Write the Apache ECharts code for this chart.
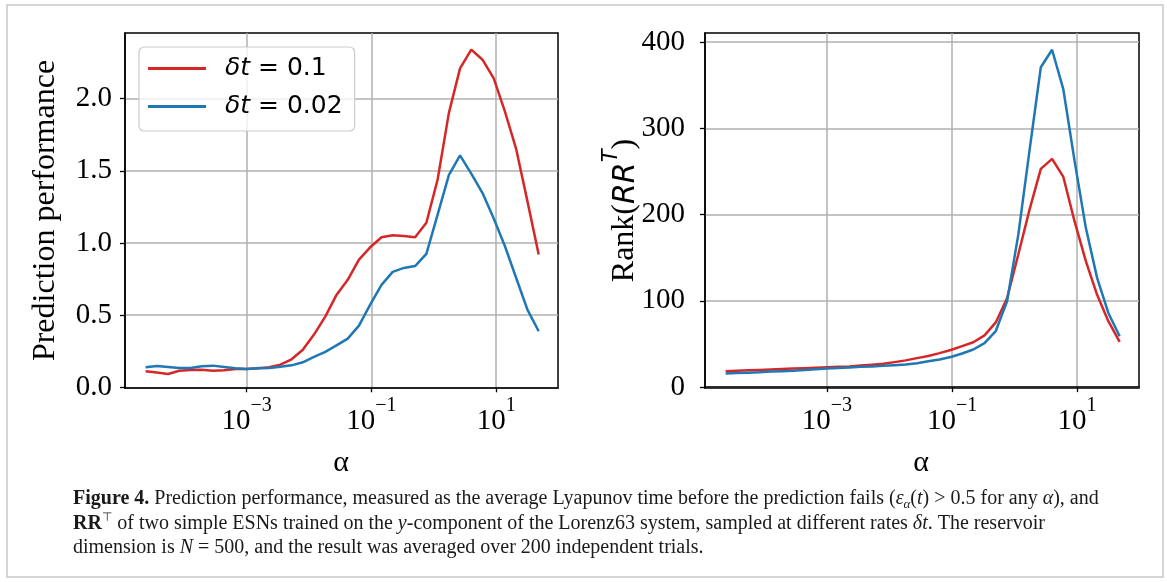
<!doctype html>
<html>
<head>
<meta charset="UTF-8">
<title>Figure 4</title>
<script src="https://cdn.jsdelivr.net/npm/echarts@6/dist/echarts.min.js"></script>
<style>
  html, body { margin: 0; padding: 0; background: #fff; }
  #main { width: 1167px; height: 582px; }
</style>
</head>
<body>
<div id="main"></div>
<script type="text/javascript">
// alpha values (log-spaced)
var alpha = [2.40e-5, 3.63e-5, 5.50e-5, 8.32e-5, 1.26e-4, 1.91e-4, 2.88e-4, 4.37e-4, 6.61e-4,
  1.00e-3, 1.51e-3, 2.29e-3, 3.47e-3, 5.25e-3, 7.94e-3, 1.20e-2, 1.82e-2, 2.75e-2, 4.17e-2,
  6.31e-2, 9.55e-2, 0.145, 0.219, 0.331, 0.501, 0.759, 1.15, 1.74, 2.63, 3.98, 6.03, 9.12,
  13.8, 20.9, 31.6, 47.9];

// prediction performance
var perf01 = [0.111, 0.102, 0.092, 0.115, 0.12, 0.122, 0.115, 0.118, 0.127, 0.127, 0.132, 0.139,
  0.157, 0.194, 0.26, 0.365, 0.49, 0.64, 0.745, 0.885, 0.97, 1.04, 1.053, 1.048, 1.04, 1.14,
  1.44, 1.90, 2.21, 2.34, 2.27, 2.14, 1.91, 1.65, 1.29, 0.92];
var perf002 = [0.139, 0.148, 0.141, 0.134, 0.134, 0.145, 0.15, 0.141, 0.132, 0.127, 0.132, 0.134,
  0.143, 0.152, 0.173, 0.21, 0.245, 0.29, 0.337, 0.427, 0.573, 0.71, 0.80, 0.827, 0.84, 0.924,
  1.196, 1.47, 1.607, 1.48, 1.346, 1.17, 0.977, 0.757, 0.538, 0.388];

// rank(RR^T)
var rank01 = [18.5, 19, 19.5, 20, 20.5, 21, 21.5, 22, 22.5, 23, 23.5, 24, 25, 26, 27, 29, 31, 33.6,
  36, 39.4, 43, 47.5, 52, 60, 75, 103, 154, 206, 253, 264.5, 243.6, 192, 146, 107, 76.4, 52.5];
var rank002 = [15.8, 16.3, 16.8, 17.3, 18, 18.5, 19, 19.8, 20.6, 21.6, 22.2, 22.8, 23.5, 24, 24.7,
  25.5, 26.3, 27.8, 30, 32, 35, 39, 43.6, 51, 65, 99.6, 177, 275, 370.7, 391, 345, 262, 184.6,
  126.6, 86, 59];

var xTicks = [1e-3, 1e-1, 10];
var perfTicks = [0, 0.5, 1.0, 1.5, 2.0];
var rankTicks = [0, 100, 200, 300, 400];

var names = ['δt = 0.1', 'δt = 0.02'];
var RED = '#d62728', BLUE = '#1f77b4';
var SERIF = 'Liberation Serif';

function pairs(ys) {
  return alpha.map(function (a, i) { return [a, ys[i]]; });
}

function xAxisDef(idx) {
  return {
    type: 'log', logBase: 10, gridIndex: idx,
    min: Math.pow(10, -4.95), max: Math.pow(10, 1.99),
    axisLine: { show: true, lineStyle: { color: '#000', width: 1.5 } },
    axisTick: { show: true, inside: false, length: 5, customValues: xTicks,
      lineStyle: { color: '#000', width: 1.3 } },
    minorTick: { show: false },
    splitLine: { show: true, lineStyle: { color: '#b0b0b0', width: 1.5 } },
    axisLabel: {
      customValues: xTicks, margin: 8,
      formatter: function (v) {
        var e = Math.round(Math.log(v) / Math.LN10);
        return '{b|10}{s|' + (e < 0 ? '\u2212' + (-e) : e) + '}';
      },
      rich: {
        b: { fontFamily: SERIF, fontSize: 29, color: '#000', lineHeight: 40, verticalAlign: 'bottom' },
        s: { fontFamily: SERIF, fontSize: 20, color: '#000', lineHeight: 20, verticalAlign: 'top' }
      }
    }
  };
}

function yAxisDef(idx, min, max, ticks, fmt, margin) {
  return {
    type: 'value', gridIndex: idx, min: min, max: max,
    axisLine: { show: true, lineStyle: { color: '#000', width: 1.5 } },
    axisTick: { show: true, inside: false, length: 5, customValues: ticks,
      lineStyle: { color: '#000', width: 1.3 } },
    splitLine: { show: true, lineStyle: { color: '#b0b0b0', width: 1.5 } },
    axisLabel: { customValues: ticks, formatter: fmt, margin: margin,
      fontFamily: SERIF, fontSize: 29, color: '#000' }
  };
}

function lineSeries(name, data, color, idx) {
  return {
    name: name, type: 'line', xAxisIndex: idx, yAxisIndex: idx,
    data: data, showSymbol: false, symbol: 'none',
    lineStyle: { color: color, width: 2.5 }, itemStyle: { color: color },
    emphasis: { disabled: true }
  };
}

var capRich = {
  b: { fontFamily: SERIF, fontSize: 20, fontWeight: 'bold', fill: '#1a1a1a', lineHeight: 24 },
  i: { fontFamily: SERIF, fontSize: 20, fontStyle: 'italic', fill: '#1a1a1a', lineHeight: 24 },
  sub: { fontFamily: SERIF, fontSize: 13, fontStyle: 'italic', fill: '#1a1a1a', lineHeight: 13, verticalAlign: 'bottom' },
  sup: { fontFamily: 'DejaVu Sans', fontSize: 12, fill: '#1a1a1a', lineHeight: 12, verticalAlign: 'top' }
};

var myChart = echarts.init(document.getElementById('main'));

var option = {
  backgroundColor: '#fff',
  animation: false,
  grid: [
    { left: 125, top: 33, width: 433, height: 355, show: true, borderColor: '#000', borderWidth: 1.5 },
    { left: 705, top: 33, width: 434, height: 355, show: true, borderColor: '#000', borderWidth: 1.5 }
  ],
  xAxis: [xAxisDef(0), xAxisDef(1)],
  yAxis: [
    yAxisDef(0, -0.005, 2.455, perfTicks, function (v) { return v.toFixed(1); }, 13),
    yAxisDef(1, -1, 410.4, rankTicks, function (v) { return String(v); }, 20)
  ],
  legend: {
    orient: 'vertical', left: 139, top: 47,
    data: names,
    icon: 'rect', itemWidth: 58, itemHeight: 3, itemGap: 13,
    padding: [9, 12, 12, 9],
    backgroundColor: 'rgba(255,255,255,0.8)', borderColor: '#cccccc', borderWidth: 1.2, borderRadius: 5,
    selectedMode: false,
    formatter: function (n) { return '{i|δt}{n| = ' + n.split('= ')[1] + '}'; },
    textStyle: {
      padding: [0, 0, 0, 14],
      rich: {
        i: { fontFamily: 'DejaVu Sans', fontStyle: 'italic', fontSize: 25, color: '#000', lineHeight: 30 },
        n: { fontFamily: 'DejaVu Sans', fontSize: 25, color: '#000', lineHeight: 30 }
      }
    }
  },
  series: [
    lineSeries(names[0], pairs(perf01), RED, 0),
    lineSeries(names[1], pairs(perf002), BLUE, 0),
    lineSeries(names[0], pairs(rank01), RED, 1),
    lineSeries(names[1], pairs(rank002), BLUE, 1)
  ],
  graphic: [
    { type: 'rect', z: -10, shape: { x: 7, y: 5, width: 1156, height: 572 },
      style: { fill: 'none', stroke: '#c8c8c8', lineWidth: 1.5 } },
    { type: 'text', x: 46, y: 210.5, rotation: Math.PI / 2,
      style: { text: 'Prediction performance', font: '32px "Liberation Serif"', fill: '#000',
        align: 'center', verticalAlign: 'middle' } },
    { type: 'text', x: 621, y: 210.5, rotation: Math.PI / 2,
      style: { text: '{a|Rank(}{i|RR}{s|T}{a|)}', align: 'center', verticalAlign: 'middle',
        rich: {
          a: { fontFamily: SERIF, fontSize: 32, fill: '#000', lineHeight: 40, verticalAlign: 'bottom' },
          i: { fontFamily: 'DejaVu Sans', fontStyle: 'italic', fontSize: 30, fill: '#000', lineHeight: 40, verticalAlign: 'bottom' },
          s: { fontFamily: 'DejaVu Sans', fontStyle: 'italic', fontSize: 21, fill: '#000', lineHeight: 24, verticalAlign: 'top' }
        } } },
    { type: 'text', x: 341, y: 463,
      style: { text: 'α', font: '30px "Liberation Serif"', fill: '#000', align: 'center', verticalAlign: 'middle' } },
    { type: 'text', x: 921, y: 463,
      style: { text: 'α', font: '30px "Liberation Serif"', fill: '#000', align: 'center', verticalAlign: 'middle' } },
    { type: 'text', x: 73, y: 499,
      style: { text: '{b|Figure 4.} Prediction performance, measured as the average Lyapunov time before the prediction fails ({i|ε}{sub|α}({i|t}) > 0.5 for any {i|α}), and',
        font: '20px "Liberation Serif"', fill: '#1a1a1a', verticalAlign: 'middle', rich: capRich } },
    { type: 'text', x: 73, y: 523.5,
      style: { text: '{b|RR}{sup|⊤} of two simple ESNs trained on the {i|y}-component of the Lorenz63 system, sampled at different rates {i|δt}. The reservoir',
        font: '20px "Liberation Serif"', fill: '#1a1a1a', verticalAlign: 'middle', rich: capRich } },
    { type: 'text', x: 73, y: 548,
      style: { text: 'dimension is {i|N} = 500, and the result was averaged over 200 independent trials.',
        font: '20px "Liberation Serif"', fill: '#1a1a1a', verticalAlign: 'middle', rich: capRich } }
  ]
};

myChart.setOption(option);
</script>
</body>
</html>
